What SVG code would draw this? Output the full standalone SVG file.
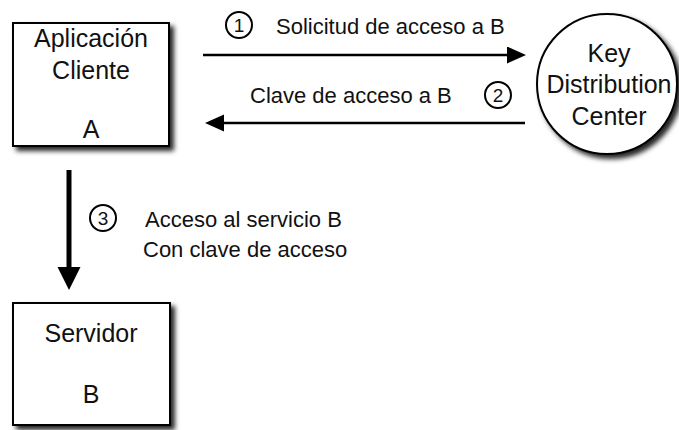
<svg xmlns="http://www.w3.org/2000/svg" width="679" height="430" viewBox="0 0 679 430">
  <style>
    .node { fill: #ffffff; stroke: #000000; stroke-width: 2; filter: url(#shadow); }
    .label { font-family: "Liberation Sans", Arial, Helvetica, sans-serif; fill: #111111; text-anchor: middle; }
    .nodetext { font-size: 25px; }
    .edgetext { font-size: 22px; text-anchor: start; }
    .num { font-size: 19px; }
    .badge { fill: none; stroke: #000000; stroke-width: 2; }
    .wire { stroke: #000000; stroke-width: 2.5; fill: none; }
    .wire-bold { stroke: #000000; stroke-width: 5; fill: none; }
  </style>
  <defs>
    <filter id="shadow" x="-20%" y="-20%" width="150%" height="150%">
      <feDropShadow dx="4" dy="4" stdDeviation="2.5" flood-color="#000000" flood-opacity="0.85"/>
    </filter>
    <marker id="head" markerUnits="userSpaceOnUse" markerWidth="20" markerHeight="18" refX="0" refY="8.5" orient="auto">
      <path d="M0,0 L19,8.5 L0,17 z" fill="#000000"/>
    </marker>
    <marker id="head-bold" markerUnits="userSpaceOnUse" markerWidth="24" markerHeight="24" refX="0" refY="11.5" orient="auto">
      <path d="M0,0 L23,11.5 L0,23 z" fill="#000000"/>
    </marker>
  </defs>

  <rect width="679" height="430" fill="#ffffff"/>

  <!-- client application A -->
  <g id="client">
    <rect class="node" x="13" y="23" width="156" height="123"/>
    <text class="label nodetext" x="91" y="47">Aplicación</text>
    <text class="label nodetext" x="91" y="79">Cliente</text>
    <text class="label nodetext" x="91" y="138">A</text>
  </g>

  <!-- key distribution center -->
  <g id="kdc">
    <circle class="node" cx="607" cy="84" r="70"/>
    <text class="label nodetext" x="609" y="62">Key</text>
    <text class="label nodetext" x="609" y="93">Distribution</text>
    <text class="label nodetext" x="609" y="125">Center</text>
  </g>

  <!-- server B -->
  <g id="server">
    <rect class="node" x="13" y="303" width="157" height="122"/>
    <text class="label nodetext" x="91" y="342">Servidor</text>
    <text class="label nodetext" x="91" y="403">B</text>
  </g>

  <!-- connectors with step labels -->
  <g id="connectors">
    <line class="wire" x1="203" y1="55" x2="507" y2="55" marker-end="url(#head)"/>
    <circle class="badge" cx="239" cy="25" r="13"/>
    <text class="label num" x="239" y="32">1</text>
    <text class="label edgetext" x="276" y="34">Solicitud de acceso a B</text>

    <line class="wire" x1="525" y1="123" x2="224" y2="123" marker-end="url(#head)"/>
    <circle class="badge" cx="498" cy="95" r="13"/>
    <text class="label num" x="498" y="102">2</text>
    <text class="label edgetext" x="250" y="103">Clave de acceso a B</text>

    <line class="wire-bold" x1="69" y1="170" x2="69" y2="267" marker-end="url(#head-bold)"/>
    <circle class="badge" cx="103" cy="218" r="13"/>
    <text class="label num" x="103" y="225">3</text>
    <text class="label edgetext" x="145" y="227">Acceso al servicio B</text>
    <text class="label edgetext" x="143" y="257">Con clave de acceso</text>
  </g>
</svg>
